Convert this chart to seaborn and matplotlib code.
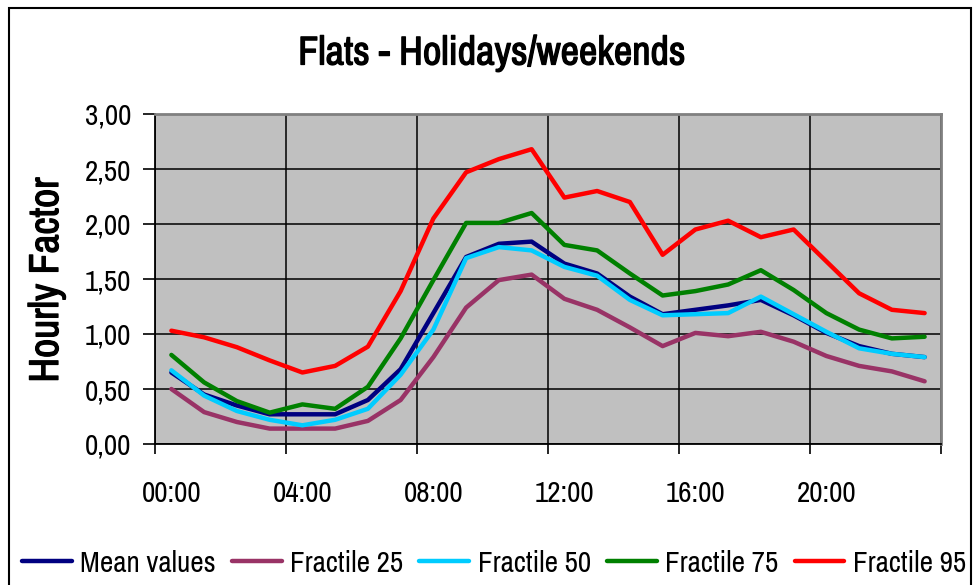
import matplotlib
matplotlib.use("Agg")
import matplotlib.pyplot as plt
from matplotlib import font_manager
from matplotlib import patheffects
from matplotlib.patches import Rectangle
from matplotlib.ticker import FixedLocator, FuncFormatter, NullFormatter
import seaborn as sns
import pandas as pd

# Hourly load factors for flats on holidays/weekends (one value per hour)
hours = list(range(24))
hour_labels = ["00:00", "04:00", "08:00", "12:00", "16:00", "20:00"]
series_names = ["Mean values", "Fractile 25", "Fractile 50", "Fractile 75", "Fractile 95"]

mean_values = [0.65, 0.45, 0.35, 0.27, 0.27, 0.27, 0.40, 0.68, 1.19, 1.70, 1.82, 1.84,
               1.64, 1.55, 1.34, 1.18, 1.22, 1.26, 1.31, 1.17, 1.01, 0.89, 0.82, 0.79]
fractile_25 = [0.50, 0.29, 0.20, 0.14, 0.14, 0.14, 0.21, 0.40, 0.79, 1.24, 1.49, 1.54,
               1.32, 1.22, 1.06, 0.89, 1.01, 0.98, 1.02, 0.93, 0.80, 0.71, 0.66, 0.57]
fractile_50 = [0.67, 0.44, 0.30, 0.22, 0.17, 0.22, 0.32, 0.63, 1.04, 1.69, 1.79, 1.76,
               1.61, 1.53, 1.31, 1.17, 1.18, 1.19, 1.34, 1.18, 1.02, 0.87, 0.82, 0.79]
fractile_75 = [0.81, 0.56, 0.39, 0.285, 0.36, 0.32, 0.52, 0.96, 1.49, 2.01, 2.01, 2.10,
               1.81, 1.76, 1.55, 1.35, 1.39, 1.45, 1.58, 1.40, 1.19, 1.04, 0.96, 0.975]
fractile_95 = [1.03, 0.97, 0.88, 0.76, 0.65, 0.71, 0.885, 1.39, 2.05, 2.47, 2.59, 2.68,
               2.24, 2.30, 2.20, 1.72, 1.95, 2.03, 1.88, 1.95, 1.66, 1.37, 1.22, 1.19]

colors = ["#000080", "#993366", "#00CCFF", "#008000", "#FF0000"]

sns.set_theme(style="white")

# Prefer a narrow sans face; fall back to the condensed cut of DejaVu Sans
entries = font_manager.fontManager.ttflist
narrow = [f.name for f in entries if "narrow" in f.name.lower()]
if narrow:
    base_font, stretch, scale = narrow[0], "normal", 1.0
elif any(f.name == "DejaVu Sans" and str(f.stretch) == "condensed" for f in entries):
    base_font, stretch, scale = "DejaVu Sans", "condensed", 0.9
else:
    base_font, stretch, scale = "Liberation Sans", "normal", 0.9
has_bold = any(f.name == base_font and str(f.weight) in ("700", "bold", "800", "900")
               for f in entries)
plt.rcParams["font.family"] = [base_font, "DejaVu Sans"]
plt.rcParams["font.stretch"] = stretch
plt.rcParams["text.color"] = "black"

# Heavier strokes stand in for a bold cut when the narrow family has none
heavy = [] if has_bold else [patheffects.withStroke(linewidth=0.9, foreground="black")]

# Long-form table: each hour is a category centred in its slot
values = [mean_values, fractile_25, fractile_50, fractile_75, fractile_95]
rows = []
for name, vals in zip(series_names, values):
    for h, v in zip(hours, vals):
        rows.append({"slot": h + 0.5, "factor": v, "series": name})
df = pd.DataFrame(rows)

fig = plt.figure(figsize=(9.78, 5.85), dpi=100)
ax = fig.add_axes([155 / 978, 1 - 444 / 585, (941 - 155) / 978, (444 - 114) / 585])
ax.set_facecolor("#C0C0C0")

sns.lineplot(data=df, x="slot", y="factor", hue="series", hue_order=series_names,
             palette=dict(zip(series_names, colors)), linewidth=3.2, sort=False,
             ax=ax, legend=True, zorder=3)

ax.set_xlim(0, 24)
ax.set_ylim(0, 3)

tick_size = 21 * scale

# Category boundaries carry the ticks and gridlines; labels sit on category centres
ax.xaxis.set_major_locator(FixedLocator([0, 4, 8, 12, 16, 20, 24]))
ax.xaxis.set_major_formatter(NullFormatter())
ax.xaxis.set_minor_locator(FixedLocator([0.5, 4.5, 8.5, 12.5, 16.5, 20.5]))
ax.xaxis.set_minor_formatter(FuncFormatter(lambda v, p: hour_labels[p] if p < len(hour_labels) else ""))
ax.tick_params(axis="x", which="major", direction="out", length=7, width=1.2, color="black",
               bottom=True)
ax.tick_params(axis="x", which="minor", length=0, pad=26, labelsize=tick_size,
               labelcolor="black", bottom=True)

ax.set_yticks([0, 0.5, 1.0, 1.5, 2.0, 2.5, 3.0])
ax.yaxis.set_major_formatter(FuncFormatter(lambda v, p: f"{v:.2f}".replace(".", ",")))
ax.tick_params(axis="y", direction="out", length=9, width=1.2, color="black", pad=8,
               labelsize=tick_size, labelcolor="black", left=True)

ax.grid(True, which="major", color="black", linewidth=1.1)
ax.set_axisbelow(True)

for side in ("left", "bottom"):
    ax.spines[side].set_color("black")
    ax.spines[side].set_linewidth(1.3)
for side in ("top", "right"):
    ax.spines[side].set_color("#808080")
    ax.spines[side].set_linewidth(2.0)

ax.set_xlabel("")
ax.set_ylabel("")

handles, labels = ax.get_legend_handles_labels()
ax.get_legend().remove()
for h in handles:
    h.set_linewidth(3.2)
fig.legend(handles, labels, loc="center", bbox_to_anchor=(494 / 978, 22 / 585), ncol=5,
           frameon=False, fontsize=tick_size, handlelength=1.7, handletextpad=0.3,
           columnspacing=0.55)

fig.text(492 / 978, 1 - 53 / 585, "Flats - Holidays/weekends", ha="center", va="center",
         fontsize=29 * scale, fontweight="bold", path_effects=heavy)
fig.text(46 / 978, 1 - 280 / 585, "Hourly Factor", ha="center", va="center",
         rotation=90, fontsize=30 * scale, fontweight="bold", path_effects=heavy)

# Chart frame
fig.patches.append(Rectangle((9 / 978, -0.2), (971 - 9) / 978, 1.2 - 8 / 585,
                             transform=fig.transFigure, fill=False,
                             edgecolor="black", linewidth=1.5, zorder=0))

fig.savefig("out.png", dpi=100)
